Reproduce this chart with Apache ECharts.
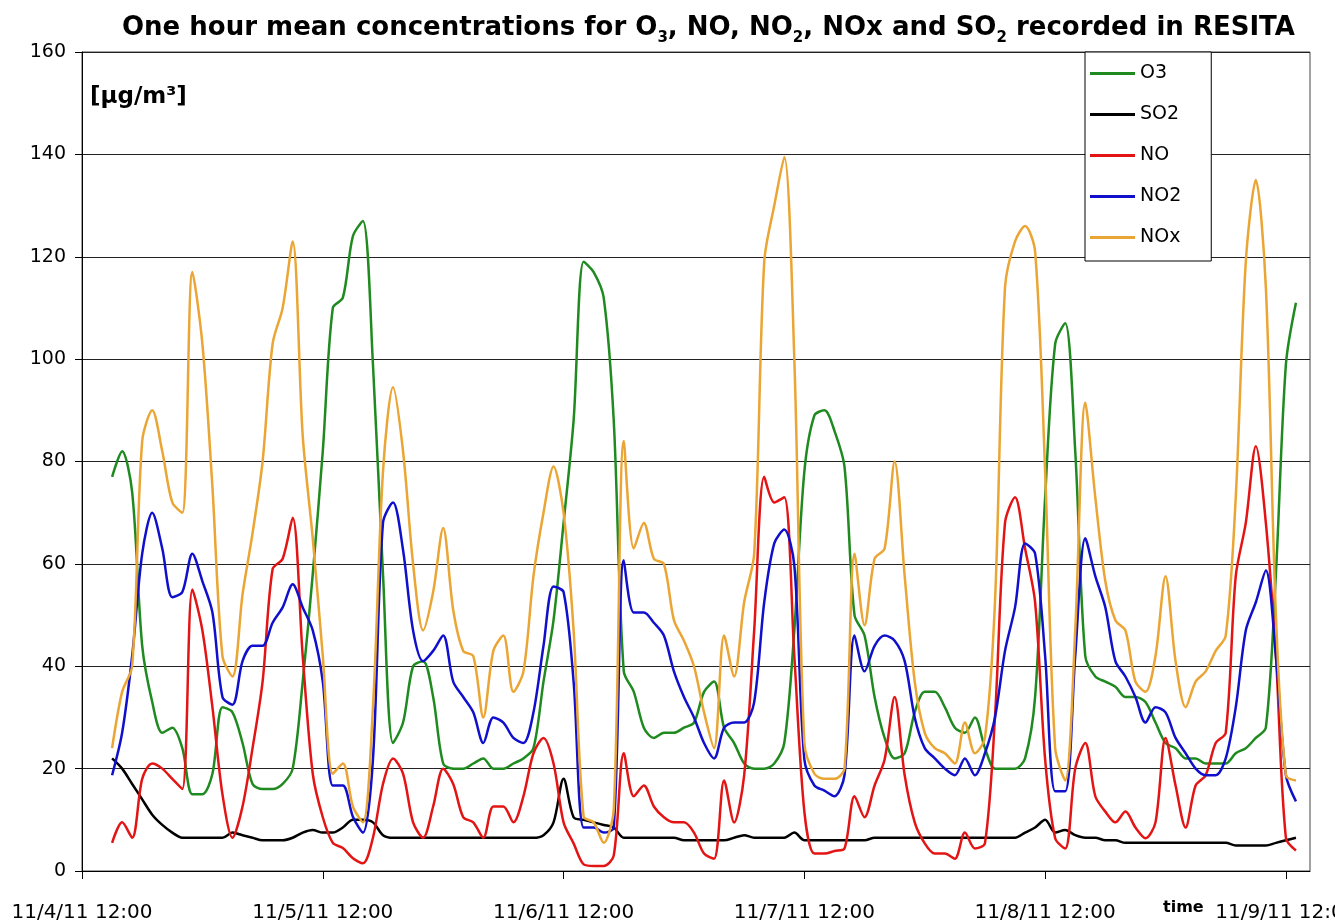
<!DOCTYPE html>
<html>
<head>
<meta charset="utf-8">
<script src="https://cdn.jsdelivr.net/npm/echarts@6/dist/echarts.min.js"></script>
<style>
html, body { margin: 0; padding: 0; background: #ffffff; }
#chart { width: 1335px; height: 923px; }
</style>
</head>
<body>
<div id="chart"></div>
<script>
// Hourly means; hours counted from 11/4/11 12:00. First value is at hour 3.
const firstHour = 3;
const tickLabels = ['11/4/11 12:00', '11/5/11 12:00', '11/6/11 12:00', '11/7/11 12:00', '11/8/11 12:00', '11/9/11 12:00'];
const seriesNames = ['O3', 'SO2', 'NO', 'NO2', 'NOx'];

const O3 = [77, 82, 74, 44, 33, 27, 28, 24, 15, 15, 19, 32, 31, 25, 17, 16, 16, 17, 20,
  37, 58, 82, 110, 112, 124, 127, 99, 58, 25, 29, 40, 41, 34, 21, 20, 20, 21, 22, 20,
  20, 21, 22, 24, 37, 49, 68, 88, 119, 117, 112, 88, 39, 35, 28, 26, 27, 27, 28, 29,
  35, 37, 28, 25, 21, 20, 20, 21, 25, 47, 78, 89, 90, 86, 79, 50, 46, 34, 26, 22,
  23, 31, 35, 35, 32, 28, 27, 30, 24, 20, 20, 20, 22, 34, 73, 103, 107, 82, 42, 38,
  37, 36, 34, 34, 33, 29, 25, 24, 22, 22, 21, 21, 21, 23, 24, 26, 28, 58, 99, 111];

const SO2 = [22, 20, 17, 14, 11, 9, 7.5, 6.5, 6.5, 6.5, 6.5, 6.5, 7.5, 7, 6.5, 6, 6, 6, 6.5,
  7.5, 8, 7.5, 7.5, 8.5, 10, 10, 9.5, 7, 6.5, 6.5, 6.5, 6.5, 6.5, 6.5, 6.5, 6.5, 6.5, 6.5, 6.5,
  6.5, 6.5, 6.5, 6.5, 7, 9.5, 18, 10.5, 10, 9.5, 9, 8.5, 6.5, 6.5, 6.5, 6.5, 6.5, 6.5, 6, 6,
  6, 6, 6, 6.5, 7, 6.5, 6.5, 6.5, 6.5, 7.5, 6, 6, 6, 6, 6, 6, 6, 6.5, 6.5, 6.5,
  6.5, 6.5, 6.5, 6.5, 6.5, 6.5, 6.5, 6.5, 6.5, 6.5, 6.5, 6.5, 7.5, 8.5, 10, 7.5, 8, 7, 6.5, 6.5,
  6, 6, 5.5, 5.5, 5.5, 5.5, 5.5, 5.5, 5.5, 5.5, 5.5, 5.5, 5.5, 5, 5, 5, 5, 5.5, 6, 6.5];

const NO = [5.5, 9.5, 6.5, 18, 21, 20, 18, 16, 55, 47, 32, 15, 6.5, 12.6, 24, 37, 59, 61, 69,
  42, 19, 10.5, 5.5, 4.5, 2.5, 1.5, 6.5, 17, 22, 19, 9.5, 6.5, 12.6, 20, 17, 10.5, 9.5, 6.5, 12.6,
  12.6, 9.5, 14.6, 23, 26, 21, 9.5, 5.4, 1.3, 1, 1, 3, 23, 14.6, 16.7, 12.6, 10.5, 9.5, 9.5, 7.5,
  3.4, 2.4, 17.7, 9.5, 18.7, 47, 77, 72, 73, 42, 11.6, 3.4, 3.4, 3.9, 4.4, 14.6, 10.5, 16.7, 21.8, 34,
  18.7, 9.5, 5.4, 3.4, 3.4, 2.4, 7.5, 4.4, 5.4, 30, 68, 73, 63, 52.5, 21.8, 6.4, 4.4, 20, 25, 14.6,
  11.6, 9.5, 11.6, 8.5, 6.4, 9.5, 26, 16.7, 8.5, 16.7, 18.7, 25, 27, 57.6, 68, 83, 68, 42, 6.4, 4];

const NO2 = [18.7, 27, 42, 62, 70, 63, 53.5, 54.5, 62, 56.6, 50.5, 34, 32.5, 41, 44, 44, 48.5, 51.5, 56,
  51.5, 47, 37, 16.7, 16.7, 10.6, 7.5, 21.8, 68, 72, 62.7, 47, 41, 43, 46, 37, 34, 31, 25, 30,
  29, 26, 25, 31, 44, 55.6, 54.5, 37, 8.5, 8.5, 7.5, 8.5, 60.7, 50.5, 50.5, 48.5, 46, 39, 34, 30,
  25, 22, 28, 29, 29, 33, 52.5, 64, 66.7, 59.7, 21.8, 16.7, 15.7, 14.6, 18.7, 46, 39, 44, 46, 45,
  41, 30, 24, 22, 20, 18.7, 22, 18.7, 23, 30, 43, 51.5, 64, 62, 42, 15.6, 15.6, 42, 65, 57.6,
  51.5, 41, 38, 34, 29, 32, 31, 26, 23, 20, 18.7, 18.7, 22, 32, 47, 52.5, 58.7, 42, 18.7, 13.6];

const NOx = [24, 35, 40, 84, 90, 82, 72, 70, 117, 103, 75, 42, 38, 54, 66, 80, 103, 110, 123,
  85, 65, 42, 19, 21, 12.6, 9.5, 32, 78, 94.5, 82, 60, 47, 54.5, 67, 51, 43, 42, 30, 43,
  46, 35, 39, 57.6, 70, 79, 70, 47, 10.6, 9.5, 5.5, 12, 84, 63, 68, 61, 60, 49, 45, 40,
  31, 24, 46, 38, 52.5, 62, 119, 130, 139.5, 100, 25, 19, 18, 18, 20, 62, 48, 61, 63, 80,
  57.6, 37, 27, 24, 23, 21, 29, 23, 26, 52.5, 114, 123, 126, 121, 78, 24, 17.7, 47, 91.5, 73,
  56.6, 49, 47, 37, 35, 42, 57.6, 41, 32, 37, 39, 43, 46, 73, 119, 135, 114, 50, 18.7, 17.7];

const seriesValues = [O3, SO2, NO, NO2, NOx];
const seriesColors = ['#1f8a1f', '#000000', '#e31414', '#1010cc', '#eaa534'];

function toPoints(values) {
  return values.map(function (v, i) { return [firstHour + i, v]; });
}

const chart = echarts.init(document.getElementById('chart'));
const labelFont = 'DejaVu Sans';

chart.setOption({
  animation: false,
  backgroundColor: '#ffffff',
  title: {
    text: 'One hour mean concentrations for O{s|3}, NO, NO{s|2}, NOx and SO{s|2} recorded in RESITA',
    left: 122,
    top: 10,
    padding: 0,
    textStyle: {
      fontFamily: labelFont,
      fontWeight: 'bold',
      fontSize: 26,
      color: '#000',
      rich: {
        s: { fontFamily: labelFont, fontWeight: 'bold', fontSize: 15, color: '#000', verticalAlign: 'bottom', lineHeight: 36 }
      }
    }
  },
  graphic: [
    {
      type: 'text', left: 90, top: 86,
      style: { text: '[µg/m³]', font: 'bold 23px "DejaVu Sans"', fill: '#000' }
    },
    {
      type: 'text', left: 1163, top: 900,
      style: { text: 'time', font: 'bold 16px "DejaVu Sans"', fill: '#000' }
    }
  ],
  legend: {
    orient: 'vertical',
    left: 1085,
    top: 52,
    padding: [12, 30, 14, 5],
    icon: 'rect',
    itemWidth: 45,
    itemHeight: 3,
    itemGap: 22,
    borderColor: '#000',
    borderWidth: 1,
    borderRadius: 0,
    backgroundColor: '#ffffff',
    textStyle: { fontFamily: labelFont, fontSize: 19, color: '#000' },
    data: seriesNames
  },
  grid: {
    left: 82, right: 25, top: 52, bottom: 52,
    outerBoundsMode: 'none',
    containLabel: false,
    show: true, borderColor: '#444', borderWidth: 1, backgroundColor: '#ffffff'
  },
  xAxis: {
    type: 'value',
    min: 0,
    max: 122.4,
    interval: 24,
    axisLine: { show: true, onZero: false, lineStyle: { color: '#000', width: 1 } },
    axisTick: { show: true, length: 8, lineStyle: { color: '#000' } },
    splitLine: { show: false },
    axisLabel: {
      margin: 32,
      fontFamily: labelFont,
      fontSize: 20,
      color: '#000',
      showMaxLabel: false,
      hideOverlap: false,
      formatter: function (v) {
        return (v % 24 === 0 && tickLabels[v / 24]) ? tickLabels[v / 24] : '';
      }
    }
  },
  yAxis: {
    type: 'value',
    min: 0,
    max: 160,
    interval: 20,
    axisLine: { show: true, lineStyle: { color: '#000', width: 1 } },
    axisTick: { show: true, length: 7, lineStyle: { color: '#000' } },
    splitLine: { show: true, lineStyle: { color: '#222', width: 1 } },
    axisLabel: { margin: 16, fontFamily: labelFont, fontSize: 19, color: '#000' }
  },
  series: seriesNames.map(function (name, k) {
    return {
      name: name,
      type: 'line',
      data: toPoints(seriesValues[k]),
      symbol: 'none',
      smooth: 0.3,
      color: seriesColors[k],
      lineStyle: { color: seriesColors[k], width: 2.5 },
      z: 2 + k
    };
  })
});
</script>
</body>
</html>
